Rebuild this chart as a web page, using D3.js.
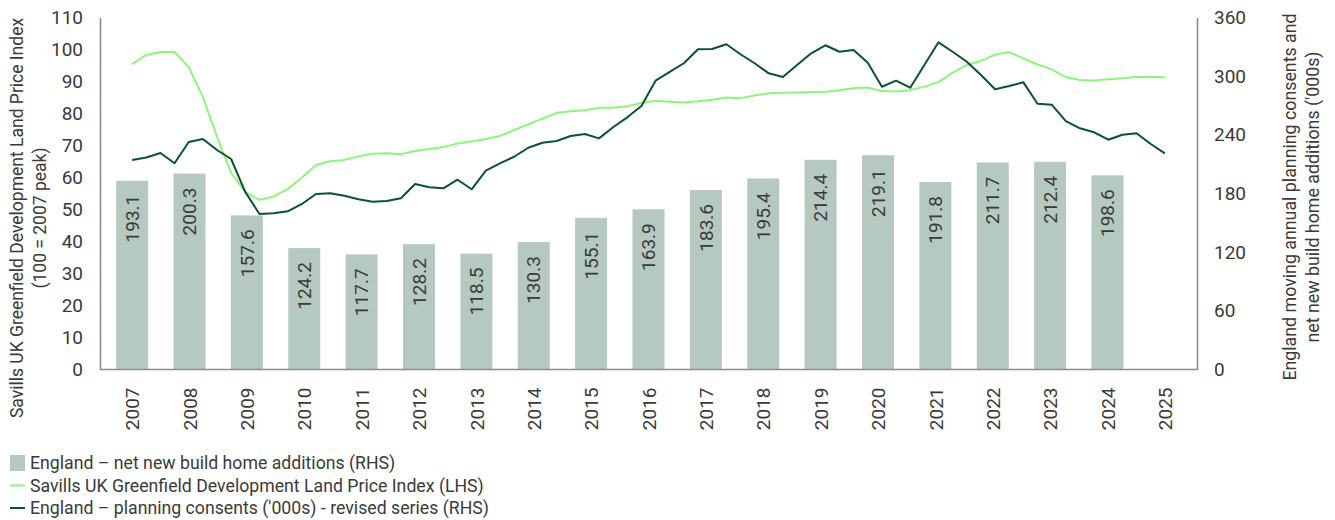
<!DOCTYPE html>
<html>
<head>
<meta charset="utf-8">
<script src="https://cdn.jsdelivr.net/npm/d3@7"></script>
<style>
  html, body { margin: 0; padding: 0; background: #fff; }
  svg { display: block; }
  text { font-family: "Liberation Sans Narrow", "Roboto", sans-serif; fill: #3a3a3a; }
</style>
</head>
<body>
<svg id="chart" width="1335" height="520"></svg>
<script>
// ---------- data ----------
const years = ["2007","2008","2009","2010","2011","2012","2013","2014","2015","2016","2017","2018","2019","2020","2021","2022","2023","2024","2025"];
const barYears = ["2007","2008","2009","2010","2011","2012","2013","2014","2015","2016","2017","2018","2019","2020","2021","2022","2023","2024"];
const newBuild = [193.1,200.3,157.6,124.2,117.7,128.2,118.5,130.3,155.1,163.9,183.6,195.4,214.4,219.1,191.8,211.7,212.4,198.6];

// Savills UK Greenfield Development Land Price Index (LHS), quarterly 2007 -> 2025
const landIndex = [95.4,98.3,99.2,99.2,94.5,85.2,72.7,61.4,55.5,53.0,54.1,56.4,60.0,63.9,65.1,65.5,66.6,67.4,67.6,67.3,
  68.3,68.9,69.5,70.6,71.3,72.0,73.0,74.8,76.6,78.4,80.2,80.7,81.0,81.8,81.8,82.3,83.3,84.0,83.7,83.4,
  83.8,84.3,85.0,84.8,85.6,86.3,86.5,86.6,86.7,86.8,87.3,87.9,88.1,87.0,86.9,87.3,88.4,89.8,92.8,95.1,
  96.5,98.4,99.2,97.2,95.3,93.8,91.4,90.5,90.3,90.7,91.0,91.4,91.5,91.3];

// England planning consents ('000s) - revised series (RHS), quarterly 2007 -> 2025
const consents = [214.3,216.8,221.4,210.9,232.7,235.7,224.5,215.3,181.5,159.0,159.7,161.8,169.3,179.5,180.2,177.7,174.1,171.6,172.3,175.1,
  189.7,186.3,185.3,194.1,184.3,203.3,210.9,217.6,226.8,231.9,233.7,238.8,240.8,236.4,247.7,257.9,269.5,295.4,304.3,313.2,
  327.5,327.8,332.6,322.4,313.2,302.9,299.1,311.4,323.4,331.6,325.0,326.8,313.8,289.2,295.4,288.2,311.4,334.6,325.0,314.8,
  301.2,286.6,289.9,293.7,271.8,270.8,254.1,246.7,242.6,235.0,240.1,241.6,230.6,221.1];

const leftTicks = [0,10,20,30,40,50,60,70,80,90,100,110];
const rightTicks = [0,60,120,180,240,300,360];

const leftTitle = ["Savills UK Greenfield Development Land Price Index", "(100 = 2007 peak)"];
const rightTitle = ["England moving annual planning consents and", "net new build home additions ('000s)"];
const legendItems = [
  {label: "England \u2013 net new build home additions (RHS)", type: "bar"},
  {label: "Savills UK Greenfield Development Land Price Index (LHS)", type: "light"},
  {label: "England \u2013 planning consents ('000s) - revised series (RHS)", type: "dark"}
];

// ---------- styles ----------
const barColor = "#b5c9c1";
const lightColor = "#8ef47c";
const darkColor = "#0a5231";
const axisColor = "#8c8c8c";
const fontStack = '"Liberation Sans Narrow", "Roboto", sans-serif';

// ---------- layout ----------
const svg = d3.select("#chart");
const pLeft = 100, pRight = 1197, pTop = 17.5, pBottom = 369.5;

const x = d3.scalePoint().domain(years).range([pLeft, pRight]).padding(0.56);
const yL = d3.scaleLinear().domain([0, 110]).range([pBottom, pTop]);
const yR = d3.scaleLinear().domain([0, 360]).range([pBottom, pTop]);
const xi = d3.scaleLinear().domain([0, landIndex.length - 1]).range([x("2007"), x("2025")]);

// bars
svg.append("g").selectAll("rect").data(newBuild).join("rect")
  .attr("x", (d, i) => x(barYears[i]) - 16)
  .attr("width", 32)
  .attr("y", d => yR(d))
  .attr("height", d => yR(0) - yR(d))
  .attr("fill", barColor);

// bar labels
svg.append("g").selectAll("text").data(newBuild).join("text")
  .attr("transform", (d, i) => `translate(${x(barYears[i])},${yR(d) + 14}) rotate(-90)`)
  .attr("text-anchor", "end")
  .attr("dy", "0.35em")
  .style("font-size", "19px")
  .text(d => d.toFixed(1));

// lines
const lineL = d3.line().x((d, i) => xi(i)).y(d => yL(d));
const lineR = d3.line().x((d, i) => xi(i)).y(d => yR(d));
svg.append("path").datum(landIndex).attr("d", lineL)
  .attr("fill", "none").attr("stroke", lightColor).attr("stroke-width", 2).attr("stroke-linejoin", "round");
svg.append("path").datum(consents).attr("d", lineR)
  .attr("fill", "none").attr("stroke", darkColor).attr("stroke-width", 2).attr("stroke-linejoin", "round");

// axes
const axL = svg.append("g").attr("transform", `translate(${pLeft},0)`)
  .call(d3.axisLeft(yL).tickValues(leftTicks).tickSize(0).tickPadding(17));
const axR = svg.append("g").attr("transform", `translate(${pRight},0)`)
  .call(d3.axisRight(yR).tickValues(rightTicks).tickSize(0).tickPadding(17));
const axB = svg.append("g").attr("transform", `translate(0,${pBottom})`)
  .call(d3.axisBottom(x).tickSize(0).tickPadding(0));
axB.select(".domain").attr("d", `M${pLeft},0H${pRight}`);
[axL, axR, axB].forEach(a => {
  a.select(".domain").attr("stroke", axisColor).attr("stroke-width", 1.6);
  a.selectAll("text").style("font-size", "19px").attr("fill", "#3a3a3a")
    .style("font-family", fontStack);
});
axB.selectAll("text")
  .attr("transform", "rotate(-90)")
  .attr("text-anchor", "end")
  .attr("x", -18)
  .attr("y", 0)
  .attr("dy", "0.35em");

// axis titles
const lt = svg.append("text")
  .attr("transform", "translate(17,218) rotate(-90)")
  .attr("text-anchor", "middle")
  .style("font-size", "17.5px");
lt.selectAll("tspan").data(leftTitle).join("tspan")
  .attr("x", 0).attr("dy", (d, i) => i === 0 ? "0.35em" : "1.32em").text(d => d);

const rt = svg.append("text")
  .attr("transform", "translate(1290,197) rotate(-90)")
  .attr("text-anchor", "middle")
  .style("font-size", "17.8px");
rt.selectAll("tspan").data(rightTitle).join("tspan")
  .attr("x", 0).attr("dy", (d, i) => i === 0 ? "0.35em" : "1.28em").text(d => d);

// legend
const lg = svg.append("g").attr("transform", "translate(10,463)");
legendItems.forEach((it, i) => {
  const g = lg.append("g").attr("transform", `translate(0,${i * 22.5})`);
  if (it.type === "bar") {
    g.append("rect").attr("x", 0).attr("y", -8).attr("width", 15).attr("height", 16).attr("fill", barColor);
  } else {
    g.append("line").attr("x1", 0).attr("x2", 15).attr("y1", 0).attr("y2", 0)
      .attr("stroke", it.type === "light" ? lightColor : darkColor).attr("stroke-width", 2);
  }
  g.append("text").attr("x", 20).attr("dy", "0.35em").style("font-size", "17.7px").text(it.label);
});
</script>
</body>
</html>
